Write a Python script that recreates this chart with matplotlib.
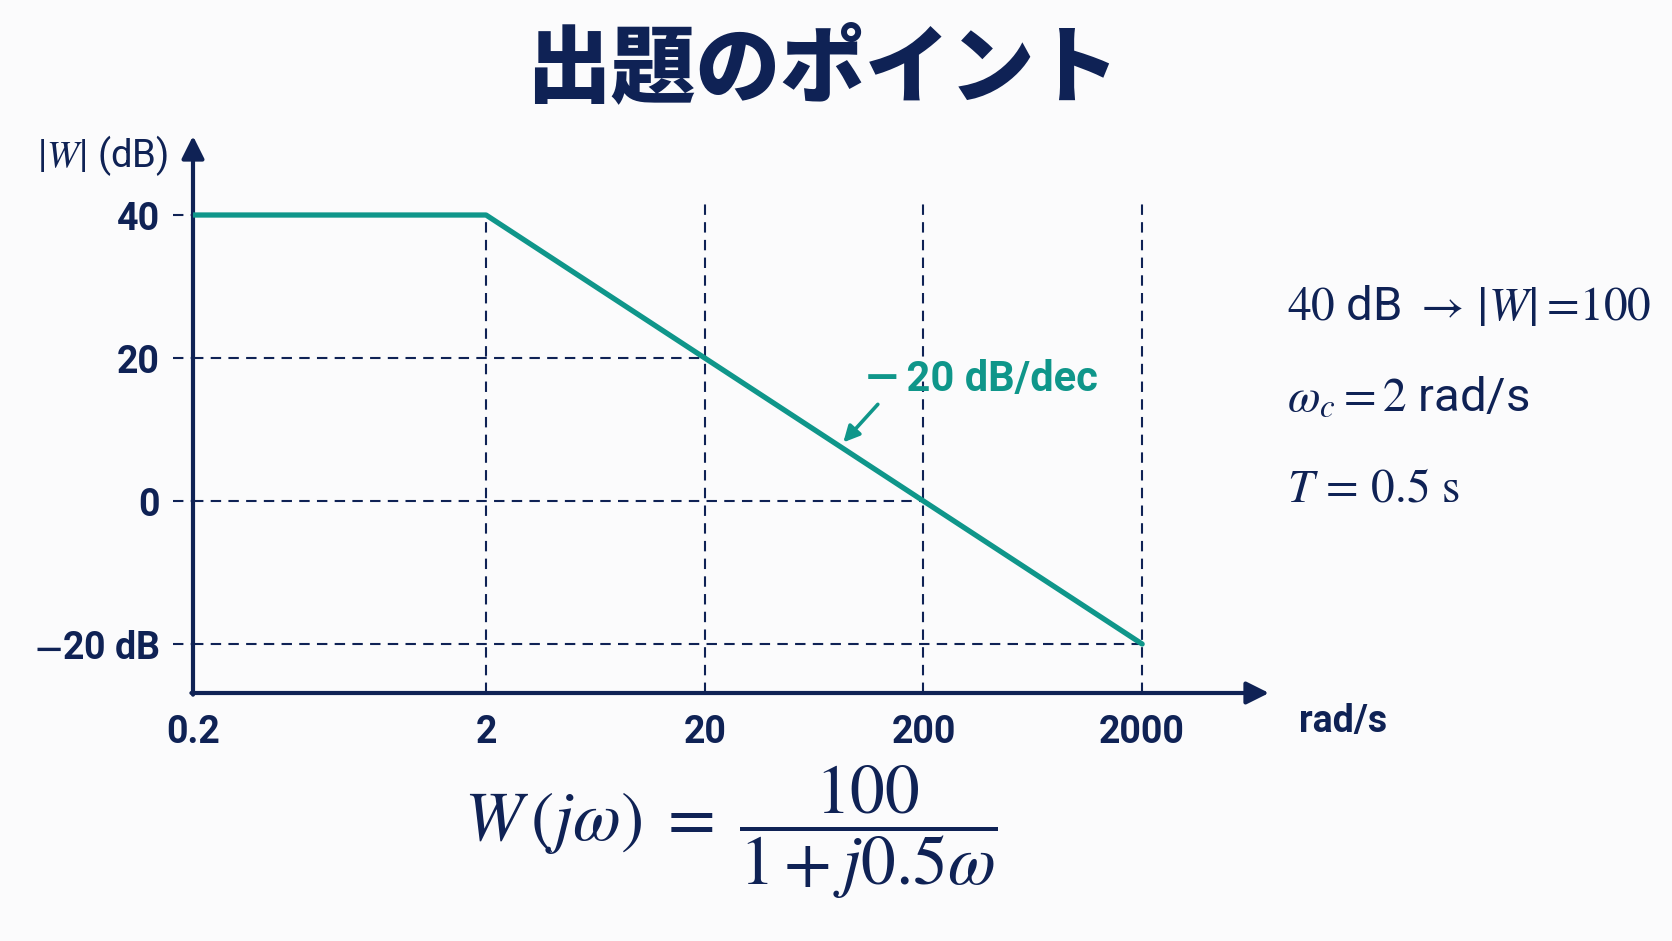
import numpy as np
import matplotlib
matplotlib.use("Agg")
import matplotlib.pyplot as plt

plt.rcParams['mathtext.fontset'] = 'stix'
plt.rcParams['font.family'] = ['Roboto', 'DejaVu Sans']

# ---------------- data ----------------
title = "出題のポイント"
freq = [0.2, 2, 2000]          # rad/s, asymptote breakpoints
gain_db = [40, 40, -20]        # dB
xtick_vals = [0.2, 2, 20, 200, 2000]
xtick_labels = ["0.2", "2", "20", "200", "2000"]
ytick_vals = [40, 20, 0, -20]
ytick_labels = ["40", "20", "0", r"$\mathbf{-}$20 dB"]
grid_freqs = [2, 20, 200, 2000]
grid_levels = [20, 0, -20]
slope_label = "—\u200920 dB/dec"
notes = [r"$40$ dB $\rightarrow\,$|$W$|$=\!100$",
         r"$\omega_c = 2$ rad/s",
         r"$T\,=\,0.5\ \mathrm{s}$"]
formula = r"$W\,(j\omega)\;=\;\dfrac{100}{1 + j0.5\omega}$"

# ---------------- style ----------------
NAVY = "#0f2255"
TEAL = "#0f968a"
BG = "#fbfbfc"
K1 = 1.34   # visual stretch of the first decade

def fwd(x):
    x = np.asarray(x, dtype=float)
    with np.errstate(divide='ignore', invalid='ignore'):
        t = np.log10(np.clip(x, 1e-12, None) / 2.0)
    return np.where(t < 0, t * K1, t)

def inv(t):
    t = np.asarray(t, dtype=float)
    tt = np.where(t < 0, t / K1, t)
    return 2.0 * 10 ** tt

fig = plt.figure(figsize=(16.72, 9.41), dpi=100, facecolor=BG)
ax = fig.add_axes([193/1672, 1-693/941, (1269-193)/1672, (693-136)/941])
ax.set_facecolor(BG)
ax.set_xscale('function', functions=(fwd, inv))
ax.set_xlim(0.2, 2 * 10 ** 3.58)
ax.set_ylim(-26.85, 51.05)
for s in ax.spines.values():
    s.set_visible(False)

# axes with arrows
arrow_kw = dict(arrowstyle='-|>', lw=3.0, color=NAVY, mutation_scale=34,
                shrinkA=0, shrinkB=0)
ax.annotate("", xy=(1, 0), xytext=(-0.0015, 0), xycoords='axes fraction',
            arrowprops=arrow_kw, annotation_clip=False)
ax.annotate("", xy=(0, 1), xytext=(0, -0.003), xycoords='axes fraction',
            arrowprops=arrow_kw, annotation_clip=False)

dash_kw = dict(color=NAVY, lw=1.5, linestyle=(0, (5, 3.5)), zorder=2)

# vertical dashed guides
ylo = ax.get_ylim()[0]
for f in grid_freqs:
    top = np.interp(np.log10(f), np.log10(freq), gain_db)
    top = top if f == freq[1] else 41.5
    ax.plot([f, f], [ylo, top], **dash_kw)

# horizontal dashed guides: end where asymptote reaches the level
lf = np.log10(freq)
for lv in grid_levels:
    xe = 10 ** np.interp(lv, gain_db[::-1][:2], lf[::-1][:2])
    ax.plot([freq[0], xe], [lv, lv], **dash_kw)
ytr = ax.get_yaxis_transform()
for lv in ytick_vals:
    ax.plot([-0.019, 0], [lv, lv], transform=ytr, clip_on=False, **dash_kw)

# asymptote
ax.plot(freq, gain_db, color=TEAL, lw=3.8, solid_capstyle='round',
        solid_joinstyle='round', zorder=4)

# ticks
ax.set_xticks(xtick_vals)
ax.set_xticklabels(xtick_labels)
ax.set_yticks(ytick_vals)
ax.set_yticklabels(ytick_labels)
ax.tick_params(axis='both', length=0, colors=NAVY, labelsize=27)
ax.tick_params(axis='x', pad=15)
ax.tick_params(axis='y', pad=24)
for lab in ax.get_xticklabels() + ax.get_yticklabels():
    lab.set_fontweight('bold')
ax.minorticks_off()

# axis labels
fig.text(37/1672, 1-156/941, r"|$W$| (dB)", fontsize=27.5, color=NAVY,
         ha='left', va='center')
fig.text(1299/1672, 1-722/941, "rad/s", fontsize=27, color=NAVY,
         ha='left', va='center', fontweight='bold')

# slope annotation
ax.annotate(slope_label, xy=(86, 8.2), xycoords='data',
            xytext=(866/1672, 1-379/941), textcoords='figure fraction',
            fontsize=30, color=TEAL, fontweight='bold', ha='left', va='center',
            arrowprops=dict(arrowstyle='-|>', lw=2.6, color=TEAL,
                            mutation_scale=24, shrinkA=2, shrinkB=0,
                            relpos=(0.07, 0.0)))

# notes at right
for i, s in enumerate(notes):
    fig.text(1287/1672, 1-(306 + 91*i)/941, s, fontsize=34, color=NAVY,
             ha='left', va='center')

# formula
fig.text(731/1672, 1-832/941, formula, fontsize=50, color=NAVY,
         ha='center', va='center')

# title
fig.text(823/1672, 1-70/941, title, fontsize=61, color=NAVY,
         ha='center', va='center', fontweight='black',
         family=['Noto Sans CJK JP', 'DejaVu Sans'])

fig.savefig("out.png", dpi=100, facecolor=BG)
